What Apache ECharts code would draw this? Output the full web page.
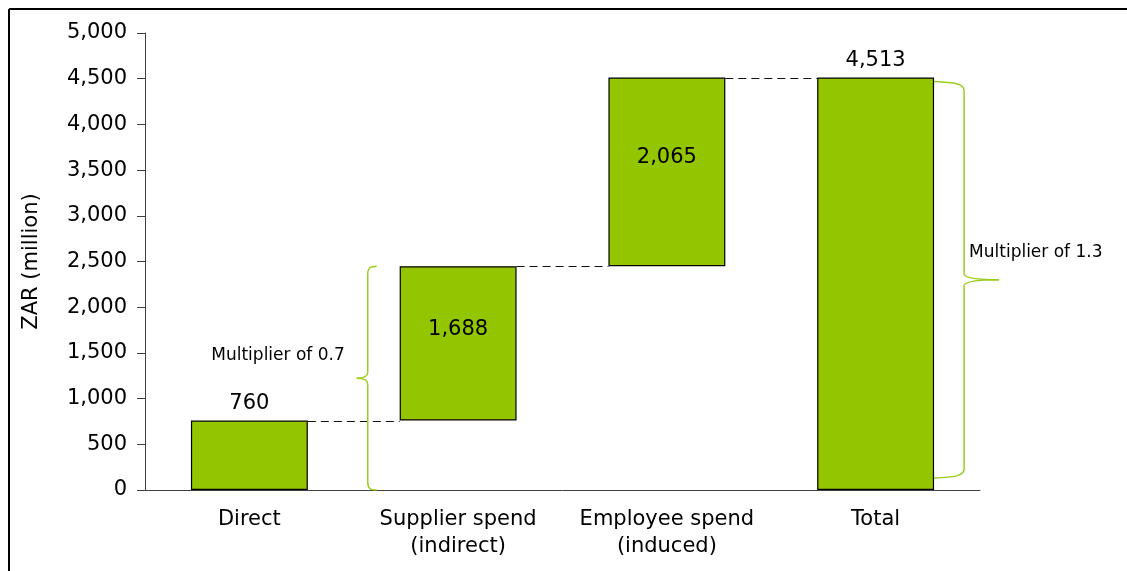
<!DOCTYPE html>
<html>
<head>
<meta charset="utf-8">
<script src="https://cdn.jsdelivr.net/npm/echarts@6/dist/echarts.min.js"></script>
<style>
  html, body { margin: 0; padding: 0; background: #fff; }
  #chart { width: 1127px; height: 571px; }
</style>
</head>
<body>
<div id="chart"></div>
<script>
// Economic impact breakdown, ZAR million
const categories = ['Direct', 'Supplier spend\n(indirect)', 'Employee spend\n(induced)', 'Total'];
const impacts = [760, 1688, 2065, 4513];
const yMin = 0;
const yMax = 5000;
const yStep = 500;

// Value ranges spanned by the two multiplier braces, and their notes
const braceRanges = [[0, 2448], [130, 4470]];
const braceNotes = ['Multiplier of 0.7', 'Multiplier of 1.3'];

const FONT = 'DejaVu Sans';
const GREEN = '#94C600';
const BRACE = '#9ACD1E';
const fmt = v => Number(v).toLocaleString('en-US');

// Invisible offsets so each component floats on the running total; the total sits on zero
const lastIdx = impacts.length - 1;
const bases = [];
let running = 0;
impacts.forEach((v, i) => {
  if (i === lastIdx) { bases.push(0); } else { bases.push(running); running += v; }
});

// Dashed connectors: level of each bar's top carried to the next bar
const connectors = impacts.slice(0, lastIdx).map((v, i) => [i, bases[i] + v]);

const BAR_FRAC = 0.56;

const chart = echarts.init(document.getElementById('chart'), null, { renderer: 'canvas' });

chart.setOption({
  animation: false,
  backgroundColor: '#fff',
  grid: { left: 145, right: 147, top: 33, bottom: 81 },
  xAxis: {
    type: 'category',
    data: categories,
    axisLine: { lineStyle: { color: '#404040', width: 1 } },
    axisTick: { show: false },
    axisLabel: {
      color: '#000', fontFamily: FONT, fontSize: 21, lineHeight: 27,
      margin: 16, interval: 0
    }
  },
  yAxis: {
    type: 'value',
    min: yMin, max: yMax, interval: yStep,
    name: 'ZAR (million)',
    nameLocation: 'middle',
    nameGap: 103,
    nameTextStyle: { color: '#000', fontFamily: FONT, fontSize: 21 },
    axisLine: { show: true, lineStyle: { color: '#404040', width: 1 } },
    axisTick: { show: true, inside: false, length: 8, lineStyle: { color: '#404040' } },
    splitLine: { show: false },
    axisLabel: {
      color: '#000', fontFamily: FONT, fontSize: 21, margin: 18,
      formatter: v => fmt(v)
    }
  },
  series: [
    {
      name: 'base',
      type: 'bar',
      stack: 'wf',
      barWidth: (BAR_FRAC * 100) + '%',
      itemStyle: { color: 'transparent', borderColor: 'transparent' },
      emphasis: { disabled: true },
      data: bases
    },
    {
      name: 'impact',
      type: 'bar',
      stack: 'wf',
      barWidth: (BAR_FRAC * 100) + '%',
      itemStyle: { color: GREEN, borderColor: '#000', borderWidth: 1.2 },
      emphasis: { disabled: true },
      label: {
        show: true, color: '#000', fontFamily: FONT, fontSize: 21,
        formatter: p => fmt(p.value)
      },
      data: impacts.map((v, i) => {
        const onTop = (i === 0 || i === lastIdx);
        return {
          value: v,
          label: onTop
            ? { position: 'top', distance: 6 }
            : { position: 'inside', offset: [0, -14] }
        };
      })
    },
    {
      name: 'connectors',
      type: 'custom',
      clip: false,
      silent: true,
      z: 1,
      encode: { x: 0, y: 1 },
      data: connectors,
      renderItem: (params, api) => {
        const i = api.value(0);
        const v = api.value(1);
        const half = api.size([1, 0])[0] * BAR_FRAC / 2;
        const a = api.coord([i, v]);
        const b = api.coord([i + 1, v]);
        const y = Math.round(a[1]) + 0.5;
        return {
          type: 'line',
          shape: { x1: a[0] + half, y1: y, x2: b[0] - half, y2: y },
          style: { stroke: '#111', lineWidth: 1.2, lineDash: [8, 5] }
        };
      }
    },
    {
      name: 'braces',
      type: 'custom',
      clip: false,
      silent: true,
      encode: { y: [0, 1] },
      data: braceRanges,
      renderItem: (params, api) => {
        const lo = api.value(0);
        const hi = api.value(1);
        const band = api.size([1, 0])[0];
        const half = band * BAR_FRAC / 2;
        const yB = api.coord([0, lo])[1];
        const yT = api.coord([0, hi])[1];
        const yM = (yT + yB) / 2;
        const lineStyle = { stroke: BRACE, lineWidth: 1.5, fill: null };
        const children = [];
        const seg = (x1, y1, x2, y2) => children.push({ type: 'line', shape: { x1, y1, x2, y2 }, style: lineStyle });
        const crv = (x1, y1, cx1, cy1, cx2, cy2, x2, y2) => children.push({
          type: 'bezierCurve',
          shape: { x1, y1, x2, y2, cpx1: cx1, cpy1: cy1, cpx2: cx2, cpy2: cy2 },
          style: lineStyle
        });
        if (params.dataIndex === 0) {
          // Opening brace between the first two bars, tip to the left
          const c0 = api.coord([0, 0])[0];
          const c1 = api.coord([1, 0])[0];
          const vx = (c0 + c1) / 2 + 14;
          crv(vx + 9, yT, vx + 2, yT, vx, yT + 2, vx, yT + 8);
          seg(vx, yT + 8, vx, yM - 6);
          crv(vx, yM - 6, vx, yM - 1, vx - 6, yM, vx - 11, yM);
          crv(vx - 11, yM, vx - 6, yM, vx, yM + 1, vx, yM + 6);
          seg(vx, yM + 6, vx, yB - 8);
          crv(vx, yB - 8, vx, yB - 2, vx + 2, yB, vx + 9, yB);
          children.push({
            type: 'text',
            style: {
              text: braceNotes[0], x: vx - 23, y: yM - 23,
              align: 'right', verticalAlign: 'middle',
              fill: '#000', font: '17px "' + FONT + '"'
            }
          });
        } else {
          // Closing brace alongside the total bar, tip to the right
          const bx = api.coord([lastIdx, 0])[0] + half;
          const vx = bx + 30;
          crv(bx, yT, vx - 10, yT + 1, vx, yT + 2, vx, yT + 9);
          seg(vx, yT + 9, vx, yM - 6);
          crv(vx, yM - 6, vx, yM - 1, vx + 20, yM, vx + 35, yM);
          crv(vx + 35, yM, vx + 20, yM, vx, yM + 1, vx, yM + 6);
          seg(vx, yM + 6, vx, yB - 9);
          crv(vx, yB - 9, vx, yB - 2, vx - 10, yB - 1, bx, yB);
          children.push({
            type: 'text',
            style: {
              text: braceNotes[1], x: vx + 5, y: yM - 27,
              align: 'left', verticalAlign: 'middle',
              fill: '#000', font: '17px "' + FONT + '"'
            }
          });
        }
        return { type: 'group', children };
      }
    }
  ],
  graphic: [
    { type: 'line', shape: { x1: 9, y1: 9, x2: 1127, y2: 9 }, style: { stroke: '#000', lineWidth: 2 }, silent: true },
    { type: 'line', shape: { x1: 9, y1: 9, x2: 9, y2: 571 }, style: { stroke: '#000', lineWidth: 2 }, silent: true }
  ]
});
</script>
</body>
</html>
